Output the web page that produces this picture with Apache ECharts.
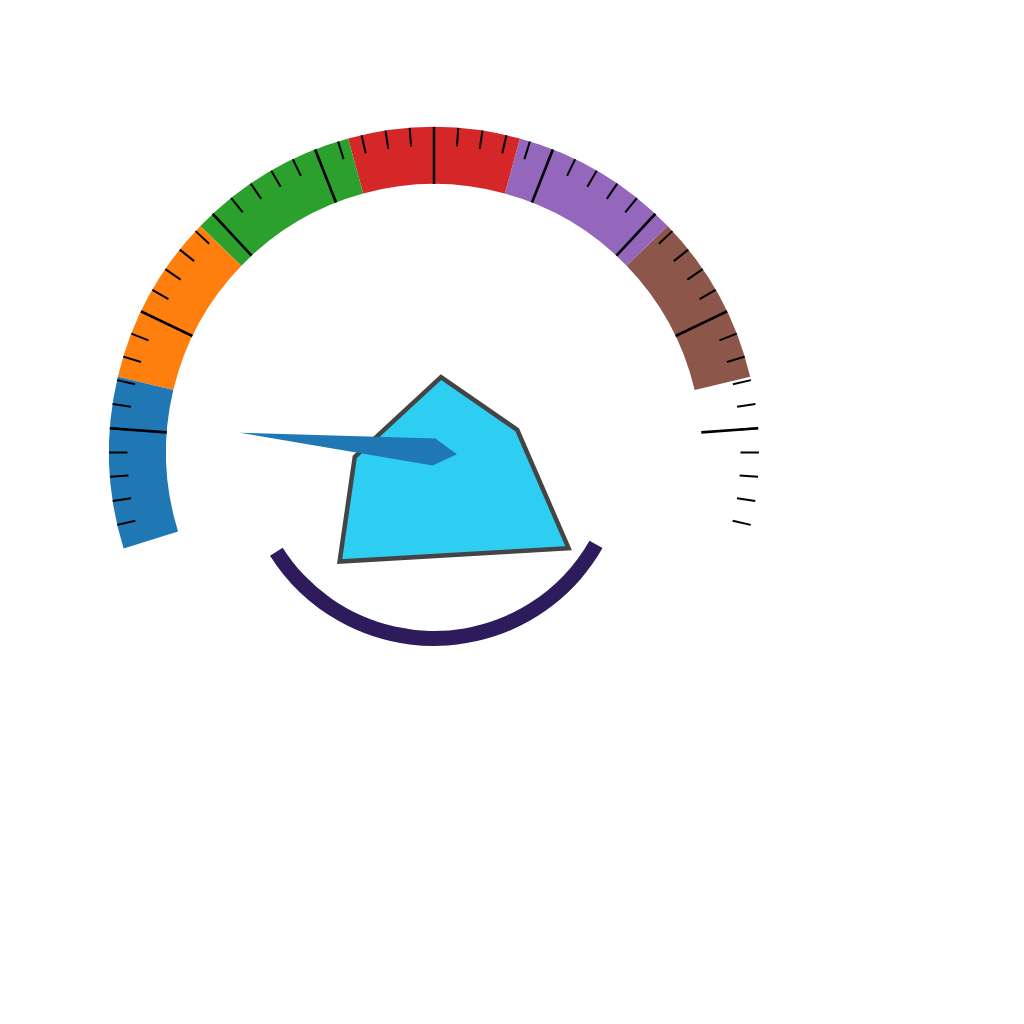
<!DOCTYPE html>
<html>
<head>
<meta charset="utf-8">
<script src="https://cdn.jsdelivr.net/npm/echarts@6/dist/echarts.min.js"></script>
<style>
html,body{margin:0;padding:0;background:#ffffff;}
#chart{width:1024px;height:1024px;}
</style>
</head>
<body>
<div id="chart"></div>
<script>
// ---- data ----
const bandStops = [1/7, 2/7, 3/7, 4/7, 5/7, 6/7, 1];
const bandColors = ['#1f77b4', '#ff7f0e', '#2ca02c', '#d62728', '#9467bd', '#8c564b', '#ffffff'];
const gaugeRange = [0, 100];
const pointerValues = [10.7];
const majorDivisions = 10;
const minorPerMajor = 5;

// ---- layout ----
const CENTER = [434, 452];
const RADIUS = 325;
const BAND_WIDTH = 57;
const START = 197.25;
const END = -17.25;
const span = START - END;
const majorStep = span / majorDivisions;
const minorStep = majorStep / minorPerMajor;

const chart = echarts.init(document.getElementById('chart'), null, {renderer: 'canvas'});

const hidden = {show: false};
const noText = {
  axisLabel: hidden, title: hidden, detail: hidden
};

const option = {
  backgroundColor: '#ffffff',
  animation: false,
  series: [
    {
      type: 'gauge',
      center: CENTER,
      radius: RADIUS,
      startAngle: START,
      endAngle: END,
      min: gaugeRange[0],
      max: gaugeRange[1],
      splitNumber: majorDivisions,
      axisLine: {
        show: true,
        lineStyle: {
          width: BAND_WIDTH,
          color: bandStops.map((s, i) => [s, bandColors[i]])
        }
      },
      splitLine: hidden,
      axisTick: hidden,
      axisLabel: hidden,
      title: hidden,
      detail: hidden,
      pointer: {
        show: true,
        icon: 'path://M13.5,0 L27,195 L13.5,218 L0,195 Z',
        keepAspect: false,
        length: 218,
        width: 27,
        offsetCenter: [0, 23],
        itemStyle: {color: 'auto'}
      },
      anchor: {
        show: true,
        showAbove: false,
        icon: 'path://M441,377.2 L517.2,429.8 L568.6,548.2 L339.6,561.6 L354.8,456.8 Z',
        keepAspect: true,
        size: 229,
        offsetCenter: [20.1, 17.4],
        itemStyle: {
          color: '#2ecdf2',
          borderColor: '#444444',
          borderWidth: 4.5
        }
      },
      data: pointerValues.map(v => ({value: v}))
    },
    {
      // minor ticks
      type: 'gauge',
      center: CENTER,
      radius: RADIUS,
      startAngle: START - minorStep,
      endAngle: END + minorStep,
      splitNumber: majorDivisions * minorPerMajor - 2,
      axisLine: {show: true, lineStyle: {width: BAND_WIDTH, color: [[1, 'rgba(0,0,0,0)']]}},
      splitLine: {show: true, distance: -BAND_WIDTH, length: 18.5, lineStyle: {color: '#000000', width: 2}},
      axisTick: hidden,
      pointer: hidden,
      anchor: hidden,
      ...noText,
      data: []
    },
    {
      // major ticks
      type: 'gauge',
      center: CENTER,
      radius: RADIUS,
      startAngle: START - majorStep,
      endAngle: END + majorStep,
      splitNumber: majorDivisions - 2,
      axisLine: {show: true, lineStyle: {width: BAND_WIDTH, color: [[1, 'rgba(0,0,0,0)']]}},
      splitLine: {show: true, distance: -BAND_WIDTH, length: BAND_WIDTH, lineStyle: {color: '#000000', width: 2.6}},
      axisTick: hidden,
      pointer: hidden,
      anchor: hidden,
      ...noText,
      data: []
    },
    {
      // lower dark arc
      type: 'gauge',
      center: CENTER,
      radius: 194,
      startAngle: -29.7,
      endAngle: -147.7,
      axisLine: {show: true, lineStyle: {width: 15, color: [[1, '#2d1b5b']]}},
      splitLine: hidden,
      axisTick: hidden,
      pointer: hidden,
      anchor: hidden,
      ...noText,
      data: []
    }
  ]
};

chart.setOption(option);
</script>
</body>
</html>
